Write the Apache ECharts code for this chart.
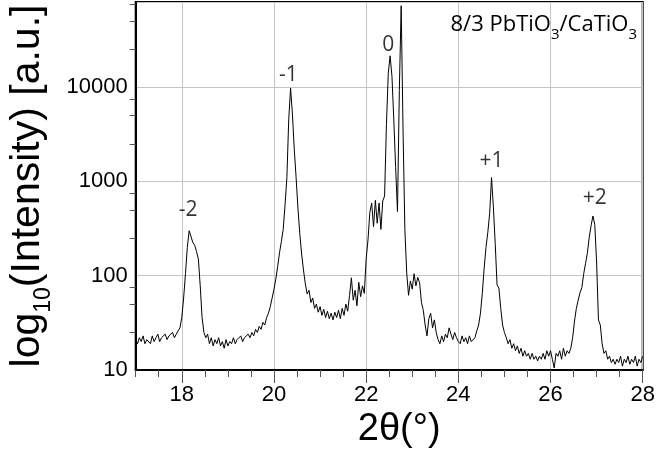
<!DOCTYPE html>
<html>
<head>
<meta charset="utf-8">
<script src="https://cdn.jsdelivr.net/npm/echarts@6/dist/echarts.min.js"></script>
<style>
  html, body { margin: 0; padding: 0; background: #fff; }
  #chart { width: 657px; height: 451px; }
</style>
</head>
<body>
<div id="chart"></div>
<script>
// XRD theta-2theta scan of an 8/3 PbTiO3/CaTiO3 superlattice
const scanStart = 17.0;   // first 2theta point (deg)
const scanStep = 0.04;    // step between points (deg)

const intensity = [
  21, 19, 22, 20, 23, 19, 21, 22, 19, 23,
  20, 22, 24, 20, 22, 21, 24, 21, 23, 22,
  25, 22, 24, 26, 28, 36, 58, 105, 200, 300,
  315, 225, 210, 180, 150, 78, 36, 25, 22, 24,
  19, 22, 18, 21, 19, 22, 18, 20, 17, 21,
  18, 20, 19, 22, 19, 21, 20, 23, 20, 22,
  21, 24, 22, 25, 23, 27, 25, 29, 27, 32,
  30, 36, 40, 47, 58, 72, 92, 125, 175, 230,
  310, 560, 1100, 4500, 9800, 5200, 2200, 1100, 520, 280,
  170, 115, 82, 64, 70, 52, 58, 45, 50, 41,
  47, 38, 44, 36, 42, 35, 40, 34, 41, 36,
  43, 35, 45, 38, 50, 42, 62, 95, 55, 70,
  48, 85, 60, 78, 65, 150, 240, 470, 590, 330,
  630, 360, 590, 310, 620, 700, 4000, 14000, 21500, 13000,
  4500, 1400, 480, 9200, 73000, 3600, 310, 107, 62, 88,
  72, 105, 78, 96, 84, 52, 43, 30, 23, 35,
  40, 28, 34, 25, 21, 19, 23, 20, 24, 22,
  28, 24, 21, 25, 22, 20, 19, 23, 20, 22,
  19, 23, 20, 21, 22, 26, 30, 40, 65, 120,
  200, 290, 460, 1100, 540, 220, 80, 74, 45, 30,
  25, 22, 19, 21, 17, 19, 16, 18, 15, 17,
  14, 16, 14, 15, 13, 15, 13, 14, 12.5, 14,
  13, 15, 13, 16, 14, 16, 13, 10.5, 15, 14,
  16, 13, 17, 14, 16, 15, 17, 22, 33, 45,
  55, 66, 75, 105, 135, 175, 255, 340, 430, 350,
  140, 34, 30, 19, 15, 16, 13, 14, 12, 13,
  11.5, 13, 12, 14, 11, 13, 12, 14, 11.5, 13,
  12, 14, 11, 13, 12, 14
];

// satellite order labels and where they sit (2theta, intensity)
const peakNames = ['-2', '-1', '0', '+1', '+2'];
const peakNameTheta = [18.14, 20.31, 22.48, 24.72, 26.96];
const peakNameLevel = [500, 13500, 28000, 1630, 665];

const xTicksLabelled = [18, 20, 22, 24, 26, 28];
const yMinorTicks = [25, 50, 75, 250, 500, 750, 2500, 5000, 7500, 25000, 50000, 75000];

const scan = intensity.map((v, i) => [+(scanStart + i * scanStep).toFixed(2), v]);
const peakMarks = peakNames.map((n, i) => ({ value: [peakNameTheta[i], peakNameLevel[i]], name: n }));

const FONT = 'Liberation Sans';
const TICK = '#555';
const chart = echarts.init(document.getElementById('chart'), null, { renderer: 'canvas' });

chart.setOption({
  animation: false,
  backgroundColor: '#fff',
  title: {
    text: '8/3 PbTiO{s|3}/CaTiO{s|3}',
    right: 15,
    top: 3,
    textStyle: {
      fontFamily: 'Open Sans',
      fontSize: 22,
      fontWeight: 'normal',
      color: '#000',
      rich: {
        s: { fontFamily: 'Open Sans', fontSize: 15, color: '#000', verticalAlign: 'bottom', lineHeight: 34 }
      }
    }
  },
  grid: {
    left: 135.7, right: 14.3, top: 2, bottom: 81,
    outerBoundsMode: 'none',
    containLabel: false,
    show: true, borderColor: '#000', borderWidth: 2, backgroundColor: 'transparent'
  },
  xAxis: [
    {
      type: 'value', min: 17, max: 28, interval: 0.5,
      axisLine: { show: true, onZero: false, lineStyle: { color: '#000', width: 2 } },
      axisTick: { show: true, inside: false, length: 7, lineStyle: { color: TICK, width: 1 } },
      axisLabel: {
        customValues: xTicksLabelled,
        formatter: v => String(v),
        fontFamily: FONT, fontSize: 22, color: '#000', margin: 14
      },
      splitLine: { show: false },
      name: '2θ(°)',
      nameLocation: 'middle',
      nameGap: 37,
      nameTextStyle: { fontFamily: FONT, fontSize: 38, color: '#000', padding: [0, 0, 0, 20] }
    },
    {
      type: 'value', min: 17, max: 28, position: 'bottom',
      axisLine: { show: false },
      axisTick: { show: true, inside: false, length: 13, customValues: xTicksLabelled, lineStyle: { color: TICK, width: 1 } },
      axisLabel: { show: false },
      splitLine: { show: true, lineStyle: { color: '#c4c4c4', width: 1 } }
    }
  ],
  yAxis: [
    {
      type: 'log', logBase: 10, min: 10, max: 80000,
      axisLine: { show: true, lineStyle: { color: '#000', width: 2 } },
      axisTick: { show: false },
      axisLabel: {
        fontFamily: FONT, fontSize: 22, color: '#000', margin: 8, showMaxLabel: false,
        formatter: v => String(Math.round(v))
      },
      splitLine: { show: true, lineStyle: { color: '#c4c4c4', width: 1 } },
      name: 'log{s|10}(Intensity) [a.u.]',
      nameLocation: 'middle',
      nameRotate: 90,
      nameGap: 75,
      nameTextStyle: {
        fontFamily: FONT, fontSize: 41, color: '#000',
        rich: { s: { fontFamily: FONT, fontSize: 23, color: '#000', verticalAlign: 'bottom', lineHeight: 56 } }
      }
    },
    {
      type: 'log', logBase: 10, min: 10, max: 80000, position: 'left',
      axisLine: { show: false },
      axisTick: { show: true, inside: false, length: 6, customValues: yMinorTicks, lineStyle: { color: TICK, width: 1 } },
      axisLabel: { show: false },
      splitLine: { show: false }
    }
  ],
  series: [
    {
      type: 'line',
      data: scan,
      xAxisIndex: 0, yAxisIndex: 0,
      showSymbol: false,
      lineStyle: { color: '#000', width: 1 },
      z: 3
    },
    {
      type: 'scatter',
      data: peakMarks,
      xAxisIndex: 0, yAxisIndex: 0,
      symbolSize: 0,
      label: {
        show: true, position: 'inside',
        formatter: p => p.name,
        fontFamily: 'Open Sans', fontSize: 21, color: '#000'
      },
      z: 4
    }
  ]
});
</script>
</body>
</html>
